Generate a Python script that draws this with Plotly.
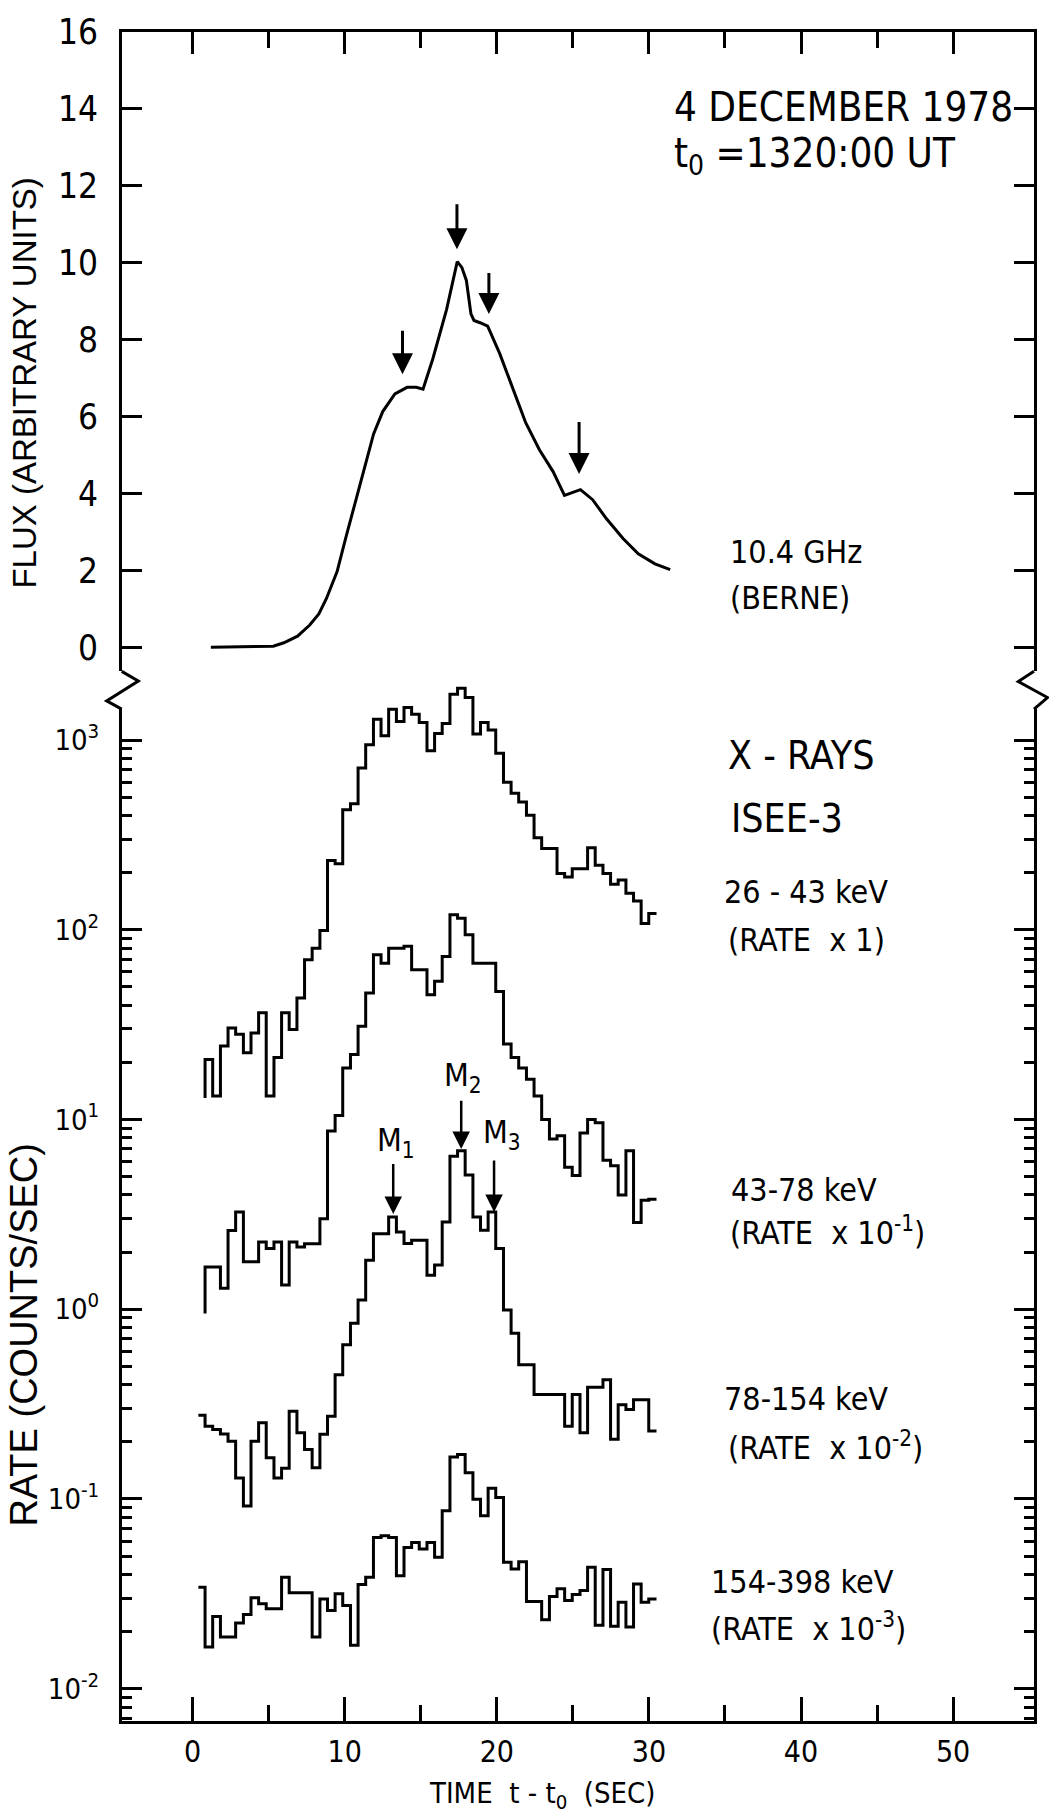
import math
import plotly.graph_objects as go

# ---------------- data ----------------
# common 0.5 s accumulation bins of the ISEE-3 X-ray rates (bin edges, s)
T_EDGES = [0.82, 1.32, 1.83, 2.33, 2.83, 3.34, 3.84, 4.34, 4.84, 5.35,
           5.85, 6.35, 6.86, 7.36, 7.86, 8.37, 8.87, 9.37, 9.87, 10.38,
           10.88, 11.38, 11.89, 12.39, 12.89, 13.40, 13.90, 14.40, 14.90, 15.41,
           15.91, 16.41, 16.92, 17.42, 17.92, 18.43, 18.93, 19.43, 19.93, 20.44,
           20.94, 21.44, 21.95, 22.45, 22.95, 23.46, 23.96, 24.46, 24.96, 25.47,
           25.97, 26.47, 26.98, 27.48, 27.98, 28.49, 28.99, 29.49, 29.99, 30.50]
T_LEAD = 0.38

RATE_26_43 = [20.7, 13.3, 24.4, 30.4, 28.1, 22.5, 28.6, 36.5, 13.3, 21.2,
              36.5, 29.8, 43.7, 69.5, 80, 99, 232, 223, 429, 461,
              713, 945, 1289, 1054, 1455, 1253, 1484, 1369, 1238, 879,
              1084, 1223, 1744, 1875, 1675, 1075, 1238, 1129, 851, 600,
              525, 471, 401, 306, 268, 268, 198, 190, 210, 210,
              271, 219, 198, 174, 183, 156, 142, 108, 122]
START_26_43 = 13.0

RATE_43_78 = [1.67, 1.67, 1.29, 2.60, 3.25, 1.78, 1.78, 2.26, 2.09, 2.26,
              1.34, 2.26, 2.13, 2.21, 2.21, 3.0, 8.7, 10.5, 18.7, 22.0,
              31.0, 46.4, 73.8, 66.7, 80, 80, 82, 61.5, 61.5, 45.5,
              53.5, 72.3, 120, 115, 94, 66.7, 66.7, 66.7, 47.3, 25,
              21.2, 18.7, 16.3, 13.3, 10.0, 7.9, 8.2, 5.6, 5.06, 8.5,
              10.0, 9.6, 6.1, 5.7, 4.0, 6.85, 2.86, 3.75, 3.8]
START_43_78 = 0.95

RATE_78_154 = [0.2415, 0.232, 0.220, 0.2015, 0.129, 0.0919, 0.2015, 0.252, 0.165, 0.129,
               0.145, 0.290, 0.223, 0.182, 0.146, 0.219, 0.273, 0.451, 0.649, 0.843,
               1.117, 1.81, 2.50, 2.50, 3.06, 2.55, 2.22, 2.31, 2.31, 1.51,
               1.71, 2.88, 6.4, 6.85, 5.1, 3.06, 2.61, 3.25, 2.09, 0.99,
               0.747, 0.509, 0.509, 0.355, 0.355, 0.355, 0.355, 0.2415, 0.355, 0.223,
               0.388, 0.388, 0.425, 0.206, 0.314, 0.296, 0.333, 0.333, 0.228]
LEAD_78_154 = 0.276

RATE_154_398 = [0.01658, 0.0240, 0.01871, 0.01871, 0.02216, 0.02461, 0.0301, 0.0280, 0.02636, 0.02636,
                0.0386, 0.0320, 0.0320, 0.0320, 0.01871, 0.0297, 0.0258, 0.0316, 0.02744, 0.01692,
                0.0354, 0.0386, 0.0626, 0.064, 0.0626, 0.0394, 0.0555, 0.059, 0.0544, 0.059,
                0.0492, 0.0865, 0.1662, 0.1715, 0.1375, 0.0996, 0.0814, 0.1138, 0.1016, 0.0463,
                0.0427, 0.0467, 0.0288, 0.0288, 0.0231, 0.0306, 0.0336, 0.0291, 0.0313, 0.0329,
                0.0436, 0.02156, 0.0424, 0.02129, 0.02856, 0.02112, 0.0356, 0.02856, 0.0297]
LEAD_154_398 = 0.0342

# 10.4 GHz (Berne) radio flux, arbitrary units
RADIO_T = [1.2, 5.3, 6.0, 6.9, 7.7, 8.3, 8.8, 9.5, 10.1, 10.8,
           11.4, 11.9, 12.5, 13.3, 14.1, 14.7, 15.15, 15.8, 16.7, 17.4,
           17.7, 18.0, 18.3, 18.5, 18.9, 19.4, 20.2, 21.1, 21.9, 22.8,
           23.7, 24.45, 25.5, 26.3, 27.2, 28.3, 29.3, 30.4, 31.4]
RADIO_FLUX = [0, 0.03, 0.12, 0.29, 0.58, 0.87, 1.27, 1.97, 2.89, 3.93,
              4.86, 5.55, 6.13, 6.59, 6.76, 6.76, 6.71, 7.51, 8.79, 10.03,
              9.88, 9.54, 8.67, 8.5, 8.44, 8.35, 7.63, 6.71, 5.84, 5.14,
              4.57, 3.95, 4.1, 3.84, 3.35, 2.83, 2.43, 2.17, 2.02]

# arrows on the radio curve: (time, tip flux, tail flux)
RADIO_ARROWS = [(13.8, 7.1, 8.27), (17.38, 10.35, 11.56), (19.48, 8.67, 9.77), (25.41, 4.51, 5.9)]
# peak markers on the 78-154 keV curve: (label, time, tip rate, tail rate, label time, label rate)
PEAK_MARKS = [("M<sub>1</sub>", 13.19, 3.18, 5.94, 13.35, 7.6),
              ("M<sub>2</sub>", 17.66, 6.98, 12.8, 17.8, 16.8),
              ("M<sub>3</sub>", 19.82, 3.25, 6.2, 20.35, 8.4)]

FLUX_TICKS = [0, 2, 4, 6, 8, 10, 12, 14, 16]
RATE_TICKS = [0.01, 0.1, 1, 10, 100, 1000]
RATE_TICKTEXT = ["10<sup>-2</sup>", "10<sup>-1</sup>", "10<sup>0</sup>",
                 "10<sup>1</sup>", "10<sup>2</sup>", "10<sup>3</sup>"]
TIME_TICKS = [0, 10, 20, 30, 40, 50]
TIME_MINOR = [5, 15, 25, 35, 45]

# ---------------- geometry ----------------
W, H = 1049, 1813
ML, MR, MT, MB = 122, 15, 25, 92
PW, PH = W - ML - MR, H - MT - MB
BRK_TOP, BRK_BOT = 667, 705          # pixel rows of the axis break


def pxx(p):
    return (p - ML) / PW


def pxy(p):
    return (H - MB - p) / PH


X0_PX, X_SC = 192.6, 15.21           # t=0 pixel, pixels per second
X_RANGE = [(ML - X0_PX) / X_SC, (W - MR - X0_PX) / X_SC]
DEC_PX, E3_PX = 190.5, 736.0         # pixels per decade, pixel of 10^3


def lg(p):
    return 3 - (p - E3_PX) / DEC_PX


FLUX_MIN = -0.624

NARROW = "Liberation Sans Narrow, DejaVu Sans Condensed, Arial Narrow, Roboto Condensed, Liberation Sans, sans-serif"
WIDE = "Liberation Sans, Arial, DejaVu Sans, sans-serif"


def steps(values, lead_t=None, lead_v=None, start_v=None):
    xs, ys = [], []
    if lead_t is not None:
        xs.append(lead_t)
        ys.append(lead_v)
    if start_v is not None:
        xs.append(T_EDGES[0])
        ys.append(start_v)
    for t, v in zip(T_EDGES[:-1], values):
        xs.append(t)
        ys.append(v)
    xs.append(T_EDGES[-1])
    ys.append(values[-1])
    return xs, ys


fig = go.Figure()
LINE = dict(color="black", width=3)

fig.add_trace(go.Scatter(x=RADIO_T, y=RADIO_FLUX, mode="lines", line=LINE,
                         xaxis="x2", yaxis="y2", hoverinfo="skip"))

x1, y1 = steps(RATE_26_43, start_v=START_26_43)
fig.add_trace(go.Scatter(x=x1, y=y1, mode="lines", line=dict(LINE, shape="hv"),
                         xaxis="x", yaxis="y3"))
x2, y2 = steps(RATE_43_78, start_v=START_43_78)
fig.add_trace(go.Scatter(x=x2, y=y2, mode="lines", line=dict(LINE, shape="hv"),
                         xaxis="x", yaxis="y"))
x3, y3 = steps(RATE_78_154, lead_t=T_LEAD, lead_v=LEAD_78_154)
fig.add_trace(go.Scatter(x=x3, y=y3, mode="lines", line=dict(LINE, shape="hv"),
                         xaxis="x", yaxis="y"))
x4, y4 = steps(RATE_154_398, lead_t=T_LEAD, lead_v=LEAD_154_398)
fig.add_trace(go.Scatter(x=x4, y=y4, mode="lines", line=dict(LINE, shape="hv"),
                         xaxis="x", yaxis="y"))

minor_log = [k * 10 ** e for e in range(-3, 4) for k in range(2, 10)]

fig.update_layout(
    width=W, height=H, margin=dict(l=ML, r=MR, t=MT, b=MB),
    paper_bgcolor="white", plot_bgcolor="rgba(0,0,0,0)", showlegend=False,
    xaxis=dict(domain=[0, 1], range=X_RANGE, anchor="y", showline=True, linecolor="black",
               linewidth=3, mirror=False, showgrid=False, zeroline=False,
               ticks="inside", ticklen=24, tickwidth=3, tickcolor="black",
               tickvals=TIME_TICKS, ticklabelstandoff=2,
               tickfont=dict(family=NARROW, size=30, color="black"),
               minor=dict(tickvals=TIME_MINOR, ticks="inside", ticklen=16, tickwidth=3,
                          tickcolor="black", showgrid=False)),
    xaxis2=dict(domain=[0, 1], range=X_RANGE, anchor="y2", side="top", matches="x",
                showline=True, linecolor="black", linewidth=3, mirror=False,
                showgrid=False, zeroline=False, showticklabels=False,
                ticks="inside", ticklen=22, tickwidth=3, tickcolor="black",
                tickvals=TIME_TICKS,
                minor=dict(tickvals=TIME_MINOR, ticks="inside", ticklen=16, tickwidth=3,
                           tickcolor="black", showgrid=False)),
    yaxis=dict(domain=[0, pxy(BRK_BOT)], type="log", range=[lg(H - MB), lg(BRK_BOT)],
               anchor="x", showline=True, linecolor="black", linewidth=3, mirror="ticks",
               showgrid=False, zeroline=False, ticks="inside", ticklen=20, tickwidth=3,
               tickcolor="black", tickvals=RATE_TICKS, ticktext=RATE_TICKTEXT,
               ticklabelstandoff=14,
               tickfont=dict(family=NARROW, size=29, color="black"),
               minor=dict(tickvals=minor_log, ticks="inside", ticklen=10, tickwidth=2.5,
                          tickcolor="black", showgrid=False)),
    yaxis2=dict(domain=[pxy(BRK_TOP), 1], range=[FLUX_MIN, 16], anchor="x2",
                showline=True, linecolor="black", linewidth=3, mirror="ticks",
                showgrid=False, zeroline=False, ticks="inside", ticklen=20, tickwidth=3,
                tickcolor="black", tickvals=FLUX_TICKS, ticklabelstandoff=14,
                tickfont=dict(family=NARROW, size=35, color="black")),
    yaxis3=dict(domain=[0, pxy(BRK_TOP)], type="log", range=[lg(H - MB), lg(BRK_TOP)],
                anchor="x", visible=False, showgrid=False, zeroline=False),
)


# axis break zigzags
def path(pts):
    return "M " + " L ".join(f"{pxx(a):.5f},{pxy(b):.5f}" for a, b in pts)


for pts in ([(121.7, BRK_TOP), (138.3, 676.7), (106.7, 696.7), (121.7, BRK_BOT)],
            [(1034, BRK_TOP), (1018.3, 677.3), (1047.5, 693.3), (1034, BRK_BOT)]):
    fig.add_shape(type="path", path=path(pts), xref="paper", yref="paper",
                  line=dict(color="black", width=3))

ann = []
for t, tip, tail in RADIO_ARROWS:
    ann.append(dict(x=t, y=tip, ax=t, ay=tail, xref="x2", yref="y2", axref="x2", ayref="y2",
                    showarrow=True, arrowhead=2, arrowsize=1.4, arrowwidth=3,
                    arrowcolor="black", text=""))
for lab, t, tip, tail, lt, lv in PEAK_MARKS:
    ann.append(dict(x=t, y=math.log10(tip), ax=t, ay=math.log10(tail), xref="x", yref="y",
                    axref="x", ayref="y", showarrow=True, arrowhead=2, arrowsize=1.4,
                    arrowwidth=2.5, arrowcolor="black", text=""))
    ann.append(dict(x=lt, y=math.log10(lv), xref="x", yref="y", text=lab, showarrow=False,
                    font=dict(family=NARROW, size=32, color="black")))

TEXTS = [
    ("4 DECEMBER 1978", 672, 100, 40),
    ("t<sub>0</sub> =1320:00 UT", 672, 150, 40),
    ("10.4 GHz", 728, 547, 32),
    ("(BERNE)", 728, 593, 32),
    ("X - RAYS", 726, 751, 39),
    ("ISEE-3", 729, 815, 39),
    ("26 - 43 keV", 722, 889, 32),
    ("(RATE  x 1)", 726, 937, 32),
    ("43-78 keV", 729, 1188, 32),
    ("(RATE  x 10<sup>-1</sup>)", 728, 1229, 32),
    ("78-154 keV", 722, 1398, 32),
    ("(RATE  x 10<sup>-2</sup>)", 726, 1445, 32),
    ("154-398 keV", 709, 1581, 32),
    ("(RATE  x 10<sup>-3</sup>)", 709, 1627, 32),
]
for txt, px, py, sz in TEXTS:
    ann.append(dict(x=pxx(px), y=pxy(py), xref="paper", yref="paper", text=txt,
                    showarrow=False, xanchor="left", yanchor="middle",
                    font=dict(family=NARROW, size=sz, color="black")))

ann.append(dict(x=pxx(25), y=pxy(378), xref="paper", yref="paper", text="FLUX (ARBITRARY UNITS)",
                textangle=-90, showarrow=False, xanchor="center", yanchor="middle",
                font=dict(family=WIDE, size=33, color="black")))
ann.append(dict(x=pxx(24), y=pxy(1333), xref="paper", yref="paper", text="RATE (COUNTS/SEC)",
                textangle=-90, showarrow=False, xanchor="center", yanchor="middle",
                font=dict(family=WIDE, size=38, color="black")))
ann.append(dict(x=pxx(542), y=pxy(1795), xref="paper", yref="paper",
                text="TIME  t - t<sub>0</sub>  (SEC)", showarrow=False,
                xanchor="center", yanchor="middle",
                font=dict(family=NARROW, size=29, color="black")))

fig.update_layout(annotations=ann)
fig.write_html("out.html", config={"displayModeBar": False},
               post_script="document.body.style.margin='0px';"
                           "document.body.style.overflow='hidden';"
                           "document.documentElement.style.overflow='hidden';")
